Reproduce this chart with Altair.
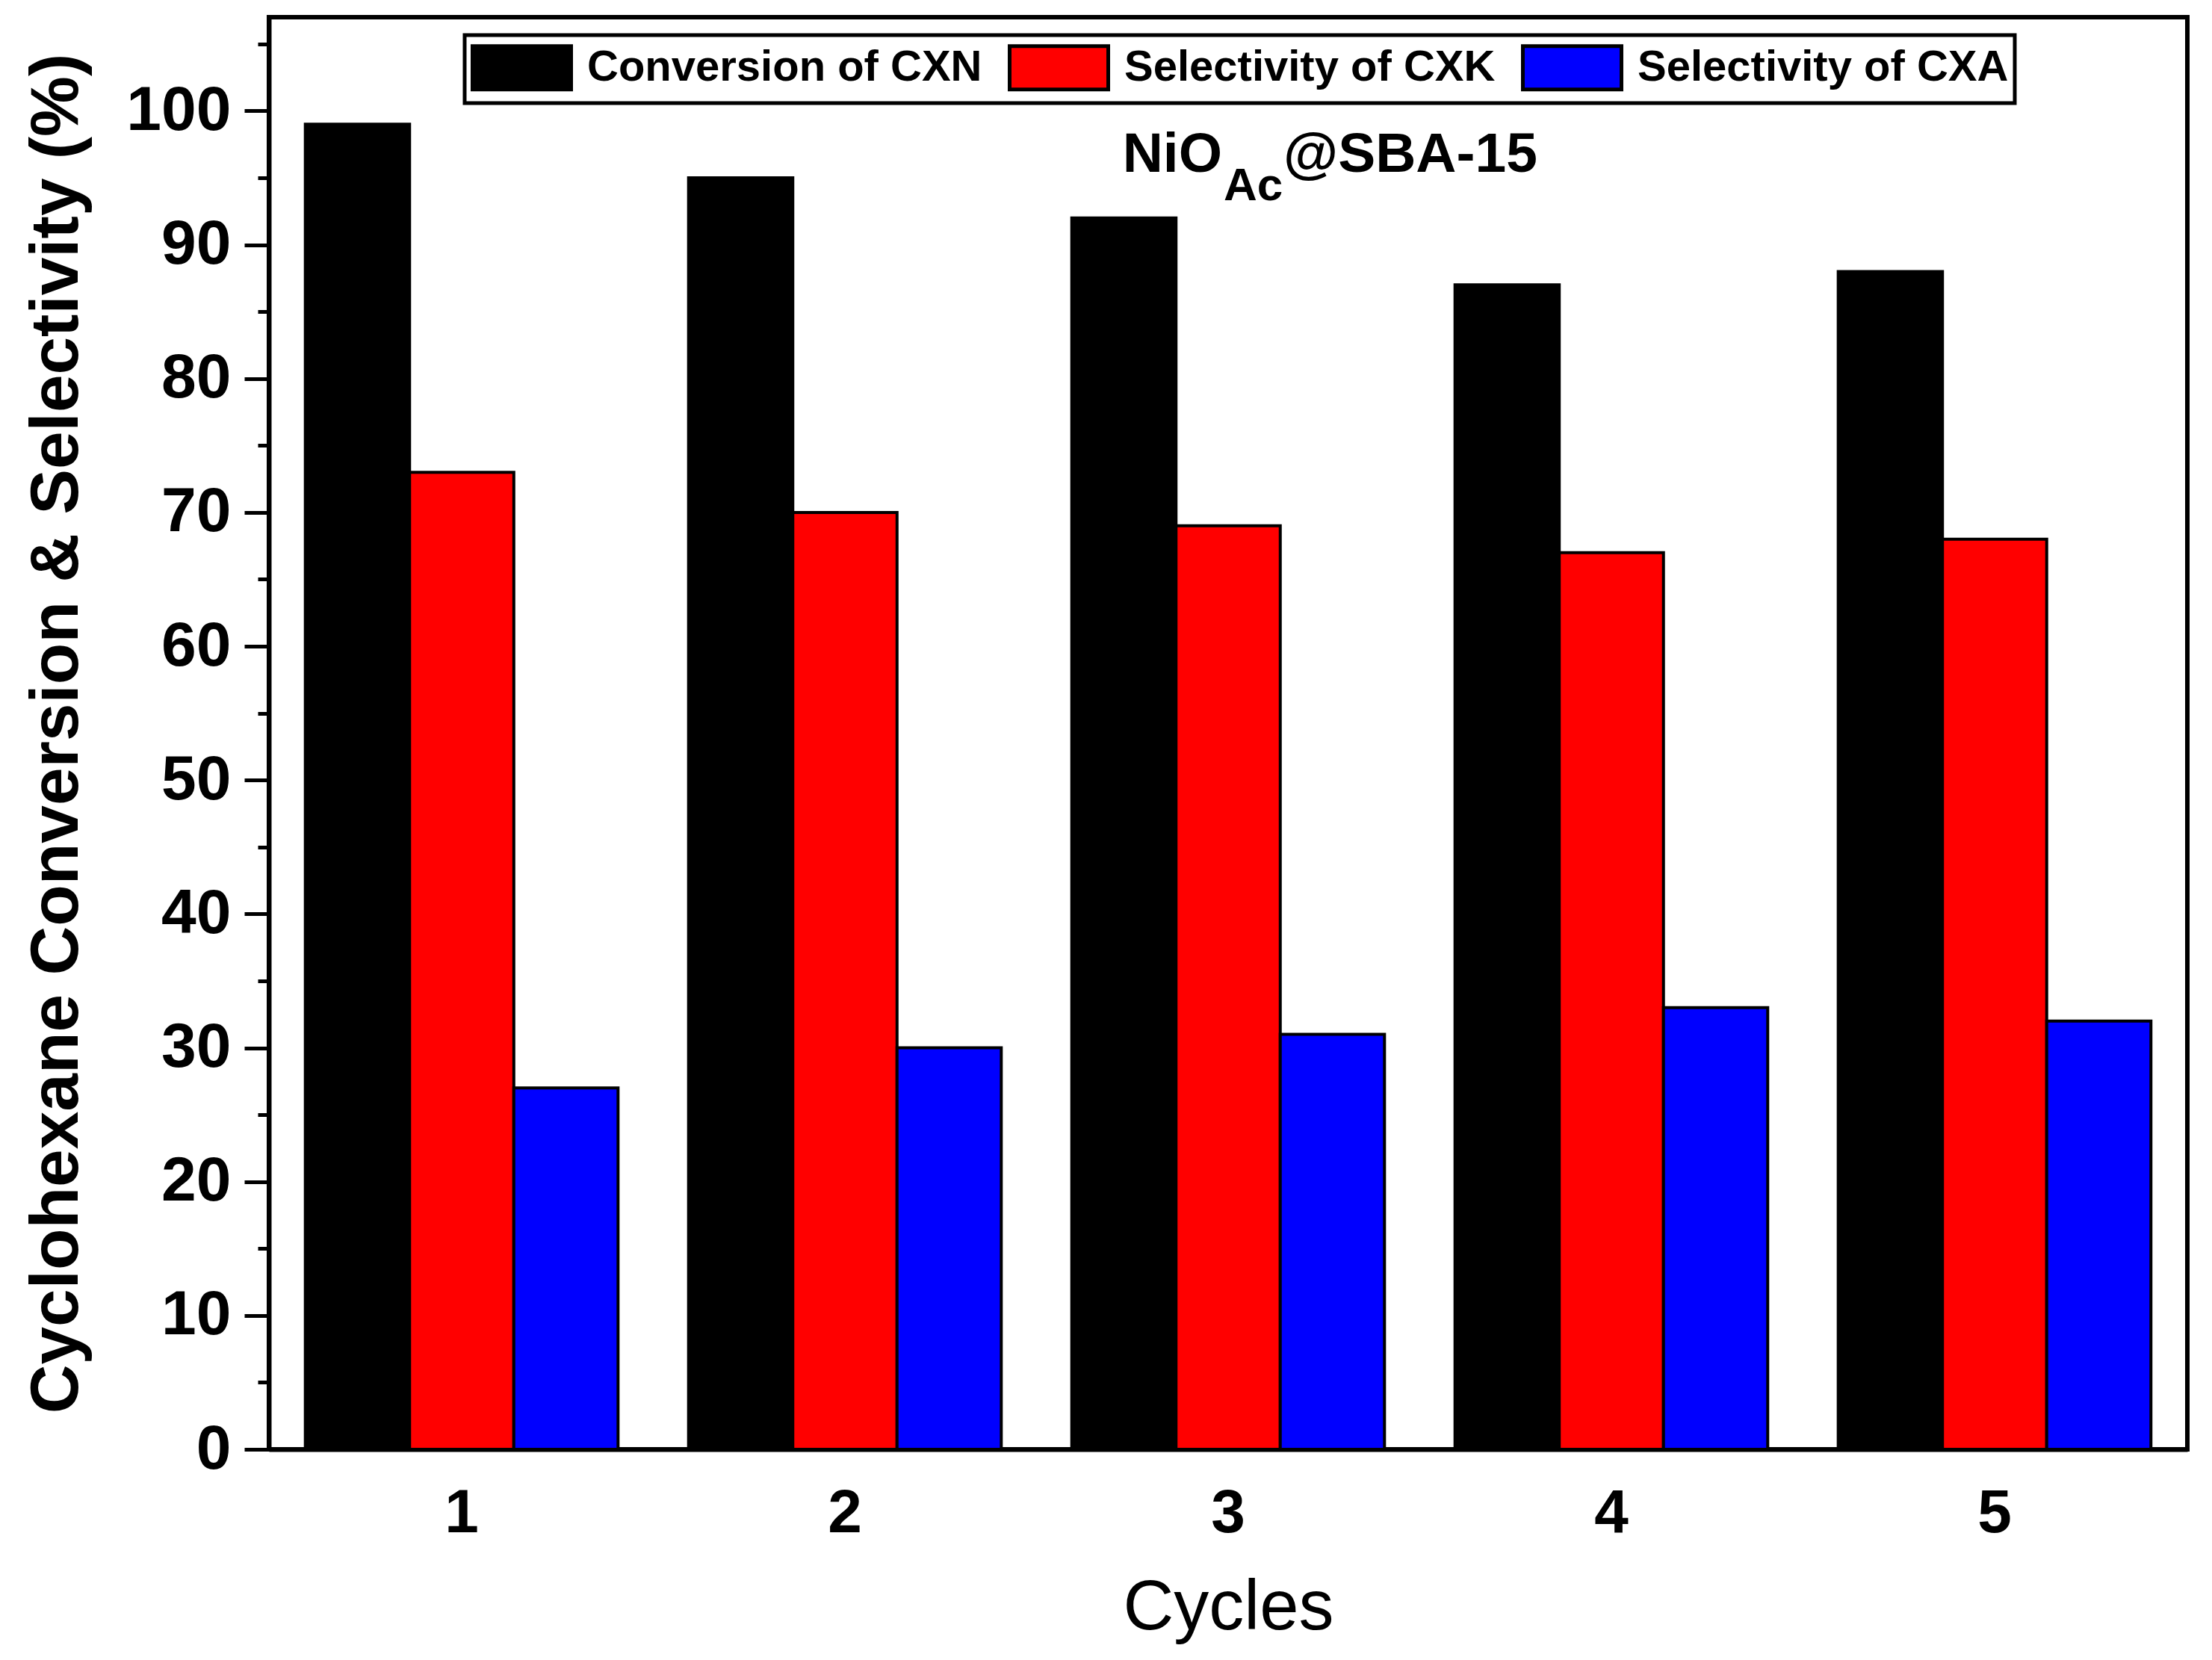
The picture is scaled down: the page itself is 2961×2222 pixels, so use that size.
import pandas as pd
import altair as alt

cycles = ["1", "2", "3", "4", "5"]
series = ["Conversion of CXN", "Selectivity of CXK", "Selectivity of CXA"]
conversion_cxn = [99, 95, 92, 87, 88]
selectivity_cxk = [73, 70, 69, 67, 68]
selectivity_cxa = [27, 30, 31, 33, 32]
bar_colors = ["#000000", "#ff0000", "#0000ff"]
major_ticks = [0, 10, 20, 30, 40, 50, 60, 70, 80, 90, 100]
minor_ticks = [5, 15, 25, 35, 45, 55, 65, 75, 85, 95, 105]

FONT = "Liberation Sans"

rows = []
for name, vals in zip(series, [conversion_cxn, selectivity_cxk, selectivity_cxa]):
    for c, v in zip(cycles, vals):
        rows.append({"cycle": c, "series": name, "value": v})
df = pd.DataFrame(rows)

y_scale = alt.Scale(domain=[0, 107], nice=False, zero=True)

bars = alt.Chart(df).mark_bar(stroke="black", strokeWidth=4).encode(
    x=alt.X(
        "cycle:N",
        sort=cycles,
        scale=alt.Scale(paddingInner=0.184, paddingOuter=0.095),
        axis=alt.Axis(
            title="Cycles", labelAngle=0, ticks=False,
            labelFontSize=82, labelFontWeight="bold", labelPadding=45,
            titleFontSize=94, titleFontWeight="normal", titlePadding=40,
            domainWidth=6,
        ),
    ),
    xOffset=alt.XOffset("series:N", sort=series,
                        scale=alt.Scale(paddingInner=0, paddingOuter=0)),
    y=alt.Y(
        "value:Q",
        scale=y_scale,
        axis=alt.Axis(
            title="Cyclohexane Conversion & Selectivity (%)",
            values=major_ticks, tickSize=33, tickWidth=5,
            labelFontSize=84, labelFontWeight="bold", labelPadding=18,
            titleFontSize=91, titleFontWeight="bold", titlePadding=46,
            domainWidth=6,
        ),
    ),
    color=alt.Color(
        "series:N",
        sort=series,
        scale=alt.Scale(domain=series, range=bar_colors),
        legend=alt.Legend(
            title=None, orient="none", direction="horizontal",
            legendX=262, legendY=24,
        ),
    ),
)

minor = alt.Chart(df).mark_point(opacity=0).encode(
    y=alt.Y(
        "value:Q",
        scale=y_scale,
        axis=alt.Axis(
            title=None, orient="left", values=minor_ticks, labels=False,
            domain=False, tickSize=15, tickWidth=5,
        ),
    ),
)

def label(text, x, y, size, align):
    return alt.Chart(pd.DataFrame({"t": [text]})).mark_text(
        align=align, baseline="alphabetic", fontSize=size,
        fontWeight="bold", font=FONT, color="black",
    ).encode(text="t:N", x=alt.value(x), y=alt.value(y))

sample_name = ["NiO", "Ac", "@SBA-15"]
ann = (
    label(sample_name[0], 1276, 207, 75, "right")
    + label(sample_name[1], 1278, 245, 62, "left")
    + label(sample_name[2], 1358, 207, 75, "left")
)

chart = alt.layer(bars, minor, ann).resolve_axis(y="independent").properties(
    width=2568,
    height=1917,
    padding={"left": 22, "top": 15, "right": 20, "bottom": 20},
    background="white",
).configure_view(
    stroke="black", strokeWidth=6
).configure_axis(
    labelFont=FONT, titleFont=FONT, labelColor="black", titleColor="black",
    domainColor="black", tickColor="black", grid=False,
).configure_legend(
    labelFont=FONT, labelFontSize=58, labelFontWeight="bold", labelColor="black",
    labelOffset=52, columnPadding=26, padding=8, labelLimit=2000,
    strokeColor="black", strokeWidth=5,
    symbolType="M-2,-0.88H2V0.88H-2Z", symbolSize=4356, symbolOffset=33,
    symbolStrokeColor="black", symbolStrokeWidth=5, symbolOpacity=1,
)

chart.save("out.html", embed_options={"renderer": "svg", "actions": False})
